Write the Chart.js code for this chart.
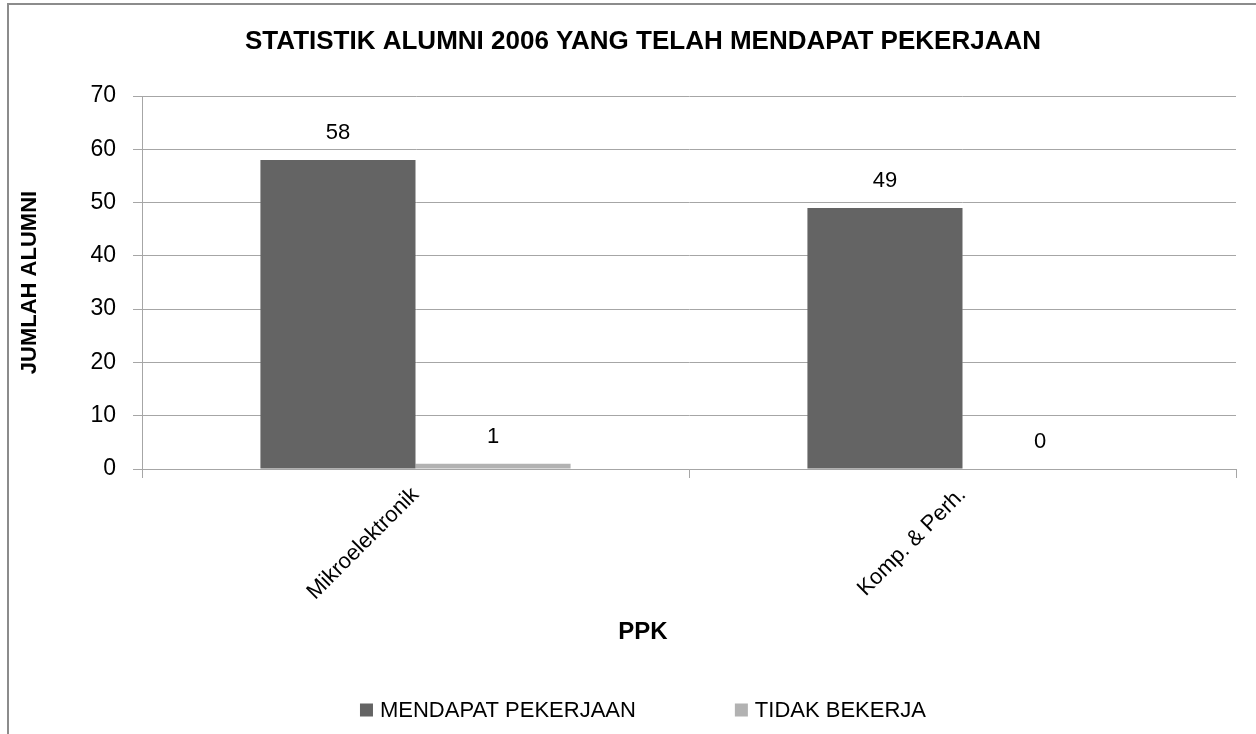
<!DOCTYPE html>
<html>
<head>
<meta charset="utf-8">
<script src="https://cdn.jsdelivr.net/npm/chart.js@4/dist/chart.umd.min.js"></script>
<style>
  html, body { margin: 0; padding: 0; background: #fff; overflow: hidden; }
  #frame { position: absolute; left: 7px; top: 3px; width: 1300px; height: 800px; border: 2px solid #8c8c8c; }
  #chart { position: absolute; left: 0; top: 0; }
</style>
</head>
<body>
<div id="frame"></div>
<canvas id="chart" width="1286" height="734"></canvas>
<script>
// Datos del gráfico
const categories = ['Mikroelektronik', 'Komp. & Perh.'];
const mendapat = [58, 49];
const tidakBekerja = [1, 0];
const seriesNames = ['MENDAPAT PEKERJAAN', 'TIDAK BEKERJA'];
const yTicks = [0, 10, 20, 30, 40, 50, 60, 70];
const chartTitle = 'STATISTIK ALUMNI 2006 YANG TELAH MENDAPAT PEKERJAAN';
const xTitle = 'PPK';

const FONT = "'Liberation Sans Narrow', 'Liberation Sans', Arial, sans-serif";
Chart.defaults.font.family = FONT;
Chart.defaults.color = '#000000';

// Etiquetas de valor encima de cada barra
const valueLabels = {
    id: 'valueLabels',
    afterDatasetsDraw(chart) {
        const ctx = chart.ctx;
        ctx.save();
        ctx.font = '22px ' + FONT;
        ctx.fillStyle = '#000';
        ctx.textAlign = 'center';
        ctx.textBaseline = 'middle';
        chart.data.datasets.forEach((ds, i) => {
            chart.getDatasetMeta(i).data.forEach((bar, j) => {
                ctx.fillText(String(ds.data[j]), bar.x, bar.y - 27);
            });
        });
        ctx.restore();
    }
};

// Título, título del eje X y leyenda inferior (centrados en el marco)
const frameParts = {
    id: 'frameParts',
    afterDraw(chart) {
        const ctx = chart.ctx;
        const cx = chart.width / 2;
        ctx.save();
        ctx.fillStyle = '#000';
        ctx.textBaseline = 'middle';
        ctx.textAlign = 'center';
        ctx.font = 'bold 26px ' + FONT;
        ctx.fillText(chartTitle, cx, 42);

        ctx.font = 'bold 24px ' + FONT;
        ctx.fillText(xTitle, cx, 632);

        ctx.font = '22px ' + FONT;
        const box = 13, gap = 7, spacing = 99;
        const items = chart.data.datasets.map(ds => ({
            text: ds.label, color: ds.backgroundColor,
            w: box + gap + ctx.measureText(ds.label).width
        }));
        const total = items.reduce((s, it) => s + it.w, 0) + spacing * (items.length - 1);
        let x = cx - total / 2;
        const y = 710;
        ctx.textAlign = 'left';
        items.forEach(it => {
            ctx.fillStyle = it.color;
            ctx.fillRect(x, y - box / 2, box, box);
            ctx.fillStyle = '#000';
            ctx.fillText(it.text, x + box + gap, y + 1);
            x += it.w + spacing;
        });
        ctx.restore();
    }
};

new Chart(document.getElementById('chart'), {
    type: 'bar',
    data: {
        labels: categories,
        datasets: [{
            label: seriesNames[0],
            data: mendapat,
            backgroundColor: '#646464',
            categoryPercentage: 0.567,
            barPercentage: 1.0
        }, {
            label: seriesNames[1],
            data: tidakBekerja,
            backgroundColor: '#b2b2b2',
            categoryPercentage: 0.567,
            barPercentage: 1.0
        }]
    },
    options: {
        responsive: false,
        animation: false,
        layout: { padding: { left: 8, right: 50, top: 96, bottom: 135 } },
        plugins: {
            legend: { display: false },
            tooltip: { enabled: false },
            title: { display: false }
        },
        scales: {
            x: {
                grid: { drawOnChartArea: false, drawTicks: true, tickLength: 9, color: '#a6a6a6' },
                border: { color: '#a6a6a6' },
                ticks: { minRotation: 45, maxRotation: 45, font: { size: 22 }, color: '#000', padding: 4 },
                afterFit(scale) { scale.height = 130; }
            },
            y: {
                min: 0,
                max: 70,
                afterBuildTicks(scale) { scale.ticks = yTicks.map(v => ({ value: v })); },
                grid: { color: '#a6a6a6', tickLength: 9 },
                border: { color: '#a6a6a6' },
                ticks: { font: { size: 23 }, color: '#000', padding: 17 },
                title: {
                    display: true,
                    text: 'JUMLAH ALUMNI',
                    font: { size: 22, weight: 'bold' },
                    color: '#000',
                    padding: { top: 9 }
                },
                afterFit(scale) { scale.width = 134; }
            }
        }
    },
    plugins: [valueLabels, frameParts]
});
</script>
</body>
</html>
